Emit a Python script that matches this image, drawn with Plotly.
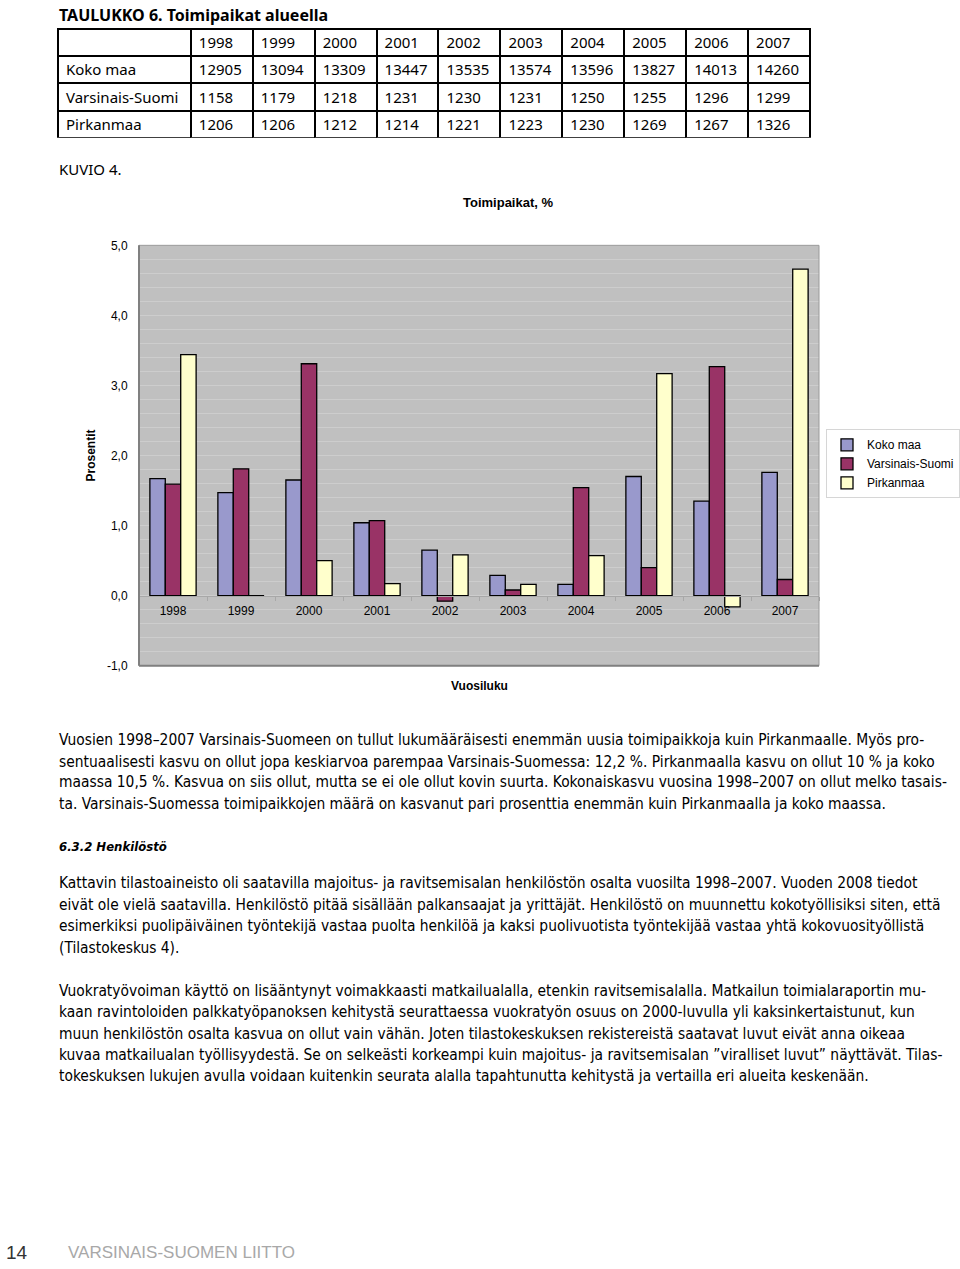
import plotly.graph_objects as go

# ---------------- data ----------------
years = ["1998", "1999", "2000", "2001", "2002", "2003", "2004", "2005", "2006", "2007"]
regions = ["Koko maa", "Varsinais-Suomi", "Pirkanmaa"]

koko_maa_count = [12905, 13094, 13309, 13447, 13535, 13574, 13596, 13827, 14013, 14260]
vs_count = [1158, 1179, 1218, 1231, 1230, 1231, 1250, 1255, 1296, 1299]
pirk_count = [1206, 1206, 1212, 1214, 1221, 1223, 1230, 1269, 1267, 1326]

# growth %
koko_pct = [1.67, 1.47, 1.65, 1.04, 0.65, 0.29, 0.16, 1.70, 1.35, 1.76]
vs_pct = [1.59, 1.81, 3.31, 1.07, -0.08, 0.08, 1.54, 0.40, 3.27, 0.23]
pirk_pct = [3.44, 0.00, 0.50, 0.17, 0.58, 0.16, 0.57, 3.17, -0.16, 4.66]

y_ticks = [-1, 0, 1, 2, 3, 4, 5]
y_tick_labels = ["-1,0", "0,0", "1,0", "2,0", "3,0", "4,0", "5,0"]

para1 = [
    "Vuosien 1998–2007 Varsinais-Suomeen on tullut lukumääräisesti enemmän uusia toimipaikkoja kuin Pirkanmaalle. Myös pro-",
    "sentuaalisesti kasvu on ollut jopa keskiarvoa parempaa Varsinais-Suomessa: 12,2 %. Pirkanmaalla kasvu on ollut 10 % ja koko",
    "maassa 10,5 %. Kasvua on siis ollut, mutta se ei ole ollut kovin suurta. Kokonaiskasvu vuosina 1998–2007 on ollut melko tasais-",
    "ta. Varsinais-Suomessa toimipaikkojen määrä on kasvanut pari prosenttia enemmän kuin Pirkanmaalla ja koko maassa.",
]
para2 = [
    "Kattavin tilastoaineisto oli saatavilla majoitus- ja ravitsemisalan henkilöstön osalta vuosilta 1998–2007. Vuoden 2008 tiedot",
    "eivät ole vielä saatavilla. Henkilöstö pitää sisällään palkansaajat ja yrittäjät. Henkilöstö on muunnettu kokotyöllisiksi siten, että",
    "esimerkiksi puolipäiväinen työntekijä vastaa puolta henkilöä ja kaksi puolivuotista työntekijää vastaa yhtä kokovuosityöllistä",
    "(Tilastokeskus 4).",
]
para3 = [
    "Vuokratyövoiman käyttö on lisääntynyt voimakkaasti matkailualalla, etenkin ravitsemisalalla. Matkailun toimialaraportin mu-",
    "kaan ravintoloiden palkkatyöpanoksen kehitystä seurattaessa vuokratyön osuus on 2000-luvulla yli kaksinkertaistunut, kun",
    "muun henkilöstön osalta kasvua on ollut vain vähän. Joten tilastokeskuksen rekistereistä saatavat luvut eivät anna oikeaa",
    "kuvaa matkailualan työllisyydestä. Se on selkeästi korkeampi kuin majoitus- ja ravitsemisalan ”viralliset luvut” näyttävät. Tilas-",
    "tokeskuksen lukujen avulla voidaan kuitenkin seurata alalla tapahtunutta kehitystä ja vertailla eri alueita keskenään.",
]

# ---------------- layout helpers ----------------
W, H = 960, 1269


def py(pix):
    return 1 - pix / H


def px(pix):
    return pix / W


CHART_FONT = "Liberation Sans, Arial, sans-serif"
PAGE_FONT = "Liberation Sans Narrow, DejaVu Sans Condensed, Noto Sans, sans-serif"
TABLE_FONT = "Noto Sans, Open Sans, sans-serif"

fig = go.Figure()

# ---------------- table ----------------
fig.add_trace(go.Table(
    domain=dict(x=[px(58), px(810)], y=[py(133), py(22)]),
    columnwidth=[133] + [62] * len(years),
    header=dict(
        values=[""] + years,
        fill_color="white",
        line=dict(color="black", width=2),
        align="left",
        font=dict(family=TABLE_FONT, size=15, color="black"),
        height=27,
    ),
    cells=dict(
        values=[regions]
        + [[koko_maa_count[i], vs_count[i], pirk_count[i]] for i in range(len(years))],
        fill_color="white",
        line=dict(color="black", width=2),
        align="left",
        font=dict(family=TABLE_FONT, size=15, color="black"),
        height=27.5,
    ),
))

# ---------------- bars ----------------
colors = ["#9999CC", "#993366", "#FFFFCC"]
for name, vals, col in zip(regions, [koko_pct, vs_pct, pirk_pct], colors):
    fig.add_trace(go.Bar(
        x=years, y=vals, name=name,
        marker=dict(color=col, line=dict(color="black", width=1.3)),
        xaxis="x", yaxis="y",
    ))

y0d, y1d = py(666), py(241)
fig.update_layout(
    width=W, height=H,
    margin=dict(l=0, r=0, t=0, b=0),
    paper_bgcolor="white",
    plot_bgcolor="#C0C0C0",
    barmode="group",
    bargap=0.32,
    bargroupgap=0,
    showlegend=True,
    legend=dict(
        x=px(826), y=py(427), xanchor="left", yanchor="top",
        bordercolor="#D6D6D6", borderwidth=1, bgcolor="white",
        font=dict(family=CHART_FONT, size=12, color="black"),
        itemwidth=30, tracegroupgap=0,
    ),
    xaxis=dict(
        domain=[px(139), px(819)],
        anchor="free",
        position=y0d + (y1d - y0d) * (0 - (-1)) / 6,
        type="category",
        showgrid=False,
        showline=True, linecolor="#A8A8A8", linewidth=1,
        ticks="outside", ticklen=4, tickcolor="#A8A8A8",
        tickson="boundaries",
        ticklabelstandoff=4,
        tickfont=dict(family=CHART_FONT, size=12, color="black"),
        fixedrange=True,
    ),
    yaxis=dict(
        domain=[y0d, y1d],
        anchor="x",
        range=[-1, 5],
        tickvals=y_ticks,
        ticktext=y_tick_labels,
        ticks="outside", ticklen=8, tickcolor="rgba(0,0,0,0)",
        showgrid=True, gridcolor="#CDCDCD", gridwidth=1,
        minor=dict(dtick=0.2, showgrid=True, gridcolor="#CDCDCD", gridwidth=1, ticks=""),
        zeroline=False,
        tickfont=dict(family=CHART_FONT, size=12, color="black"),
        title=dict(text="<b>Prosentit</b>", standoff=8,
                   font=dict(family=CHART_FONT, size=12, color="black")),
        fixedrange=True,
    ),
)

# plot frame
fig.add_shape(type="rect", xref="x domain", yref="y domain", x0=0, x1=1, y0=0, y1=1,
              line=dict(color="#9A9A9A", width=1), layer="above")
fig.add_shape(type="line", xref="x domain", yref="y domain", x0=0, x1=0, y0=0, y1=1,
              line=dict(color="#808080", width=2), layer="above")
fig.add_shape(type="line", xref="x domain", yref="y domain", x0=0, x1=1, y0=0, y1=0,
              line=dict(color="#808080", width=2), layer="above")

ann = []
ann.append(dict(text="<b>Toimipaikat, %</b>", x=px(508), y=py(198), xref="paper", yref="paper",
                showarrow=False, xanchor="center", yanchor="middle",
                font=dict(family=CHART_FONT, size=13, color="black")))
ann.append(dict(text="<b>Vuosiluku</b>", x=px(479), y=py(687), xref="paper", yref="paper",
                showarrow=False, xanchor="center", yanchor="middle",
                font=dict(family=CHART_FONT, size=12, color="black")))
ann.append(dict(text="<b>TAULUKKO 6. Toimipaikat alueella</b>", x=px(57), y=py(8), xref="paper",
                yref="paper", showarrow=False, xanchor="left", yanchor="middle",
                font=dict(family=TABLE_FONT, size=16, color="black")))
ann.append(dict(text="KUVIO 4.", x=px(57), y=py(164), xref="paper", yref="paper",
                showarrow=False, xanchor="left", yanchor="middle",
                font=dict(family=TABLE_FONT, size=15, color="black")))


def add_para(lines, tops):
    for line, yy in zip(lines, tops):
        ann.append(dict(text=line, x=px(57), y=py(yy), xref="paper", yref="paper",
                        showarrow=False, xanchor="left", yanchor="middle",
                        font=dict(family=PAGE_FONT, size=15.4, color="black")))


add_para(para1, [741, 763, 784, 806])
ann.append(dict(text="<b><i>6.3.2 Henkilöstö</i></b>", x=px(57), y=py(849), xref="paper", yref="paper",
                showarrow=False, xanchor="left", yanchor="middle",
                font=dict(family=PAGE_FONT, size=13, color="black")))
add_para(para2, [886, 908, 929, 951])
add_para(para3, [995, 1016, 1038, 1060, 1081])

ann.append(dict(text="14", x=px(4), y=py(1259), xref="paper", yref="paper",
                showarrow=False, xanchor="left", yanchor="middle",
                font=dict(family=CHART_FONT, size=19, color="#333333")))
ann.append(dict(text="VARSINAIS-SUOMEN LIITTO", x=px(66), y=py(1259), xref="paper", yref="paper",
                showarrow=False, xanchor="left", yanchor="middle",
                font=dict(family=CHART_FONT, size=17, color="#A8A8A8")))

fig.update_layout(annotations=ann)

fig.write_html(
    "out.html",
    config={"displayModeBar": False},
    post_script="document.body.style.margin='0';document.body.style.overflow='hidden';",
)
